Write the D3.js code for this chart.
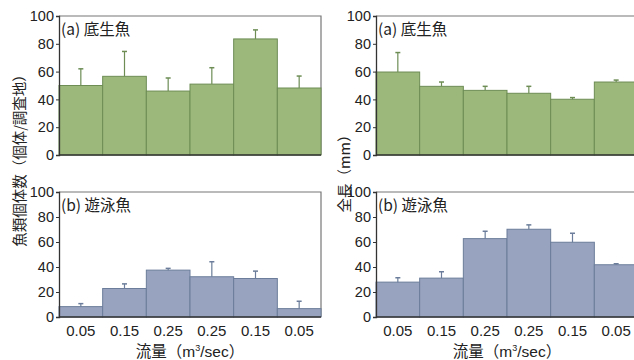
<!DOCTYPE html>
<html>
<head>
<meta charset="utf-8">
<script src="https://cdn.jsdelivr.net/npm/d3@7"></script>
<style>
  body { margin: 0; background: #fff; }
  text { font-family: "Liberation Sans", Arial, "Noto Sans CJK JP", sans-serif; fill: #222; }
  .jp { font-family: "Noto Sans CJK JP", sans-serif; }
</style>
</head>
<body>
<div id="chart"></div>
<script>
// flow categories (x axis)
const flows = ["0.05", "0.15", "0.25", "0.25", "0.15", "0.05"];
const yTicks = [0, 20, 40, 60, 80, 100];

// 魚類個体数
const countBenthic = [50, 56.6, 46, 51, 83.5, 48.2];
const countBenthicErr = [62, 74.5, 55.4, 62.8, 90, 56.8];
const countPelagic = [8.3, 22.8, 37.5, 32.2, 30.8, 6.7];
const countPelagicErr = [10.7, 26.5, 38.9, 44.2, 36.7, 12.6];

// 全長
const lenBenthic = [59.7, 49.4, 46.5, 44.4, 40.1, 52.5];
const lenBenthicErr = [73.7, 52.5, 49.4, 49.4, 41.3, 53.9];
const lenPelagic = [27.9, 31.1, 62.7, 70.2, 59.8, 41.8];
const lenPelagicErr = [31.4, 36.2, 68.6, 73.7, 67, 42.6];

const green = { fill: "#9db87b", stroke: "#6d8d55" };
const blue = { fill: "#98a3bf", stroke: "#6b7d9a" };

const svg = d3.select("#chart").append("svg")
    .attr("width", 634)
    .attr("height", 360);

function drawPanel(x0, y0, h, vals, errs, col, label, showX) {
    const w = 262;
    const x = d3.scaleBand().domain(d3.range(flows.length)).range([x0, x0 + w]).padding(0);
    const y = d3.scaleLinear().domain([0, 100]).range([y0 + h, y0]);
    const g = svg.append("g");

    // frame top/right
    g.append("path")
        .attr("d", `M${x0},${y0}H${x0 + w}V${y0 + h}`)
        .attr("fill", "none")
        .attr("stroke", "#777")
        .attr("stroke-width", 1.2);

    g.selectAll(".bar")
        .data(vals)
        .enter()
        .append("rect")
        .attr("x", (d, i) => x(i))
        .attr("y", d => y(d))
        .attr("width", x.bandwidth())
        .attr("height", d => y(0) - y(d))
        .attr("fill", col.fill)
        .attr("stroke", col.stroke)
        .attr("stroke-width", 1);

    // error bars
    errs.forEach((e, i) => {
        const cx = x(i) + x.bandwidth() / 2;
        g.append("line")
            .attr("x1", cx).attr("x2", cx)
            .attr("y1", y(vals[i])).attr("y2", y(e))
            .attr("stroke", col.stroke).attr("stroke-width", 1.2);
        g.append("line")
            .attr("x1", cx - 2.5).attr("x2", cx + 2.5)
            .attr("y1", y(e)).attr("y2", y(e))
            .attr("stroke", col.stroke).attr("stroke-width", 1.5);
    });

    // y axis
    const ya = g.append("g")
        .attr("transform", `translate(${x0},0)`)
        .call(d3.axisLeft(y).tickValues(yTicks).tickSize(3).tickPadding(2));
    ya.select(".domain").attr("stroke", "#333").attr("stroke-width", 1.3);
    ya.selectAll(".tick line").attr("stroke", "#333");
    ya.selectAll(".tick text").attr("font-size", 14.5).attr("fill", "#222")
        .style("font-family", "'Liberation Sans', Arial, sans-serif");

    // baseline
    g.append("line")
        .attr("x1", x0).attr("x2", x0 + w)
        .attr("y1", y(0)).attr("y2", y(0))
        .attr("stroke", "#333").attr("stroke-width", 1.5);

    g.append("text")
        .attr("class", "jp")
        .attr("x", x0 + 2)
        .attr("y", y0 + 19)
        .attr("font-size", 15.5)
        .text(label);

    if (showX) {
        g.selectAll(".xl")
            .data(flows)
            .enter()
            .append("text")
            .attr("x", (d, i) => x(i) + x.bandwidth() / 2)
            .attr("y", y0 + h + 19)
            .attr("text-anchor", "middle")
            .attr("font-size", 15)
            .text(d => d);
        const t = g.append("text")
            .attr("x", x0 + w / 2)
            .attr("y", y0 + h + 39.5)
            .attr("text-anchor", "middle")
            .attr("font-size", 15.5);
        t.append("tspan").attr("class", "jp").text("流量（");
        t.append("tspan").text("m");
        t.append("tspan").attr("dy", -6).attr("font-size", 9).text("3");
        t.append("tspan").attr("dy", 6).text("/sec");
        t.append("tspan").attr("class", "jp").text("）");
    }
}

drawPanel(59, 16, 139, countBenthic, countBenthicErr, green, "(a) 底生魚", false);
drawPanel(59, 192, 125, countPelagic, countPelagicErr, blue, "(b) 遊泳魚", true);
drawPanel(376, 16, 139, lenBenthic, lenBenthicErr, green, "(a) 底生魚", false);
drawPanel(376, 192, 125, lenPelagic, lenPelagicErr, blue, "(b) 遊泳魚", true);

// y axis titles
svg.append("text")
    .attr("class", "jp")
    .attr("transform", "translate(25,157) rotate(-90)")
    .attr("text-anchor", "middle")
    .attr("font-size", 14.5)
    .text("魚類個体数（個体/調査地）");

svg.append("text")
    .attr("class", "jp")
    .attr("transform", "translate(350,170) rotate(-90)")
    .attr("text-anchor", "middle")
    .attr("font-size", 14.5)
    .text("全長（mm）");
</script>
</body>
</html>
